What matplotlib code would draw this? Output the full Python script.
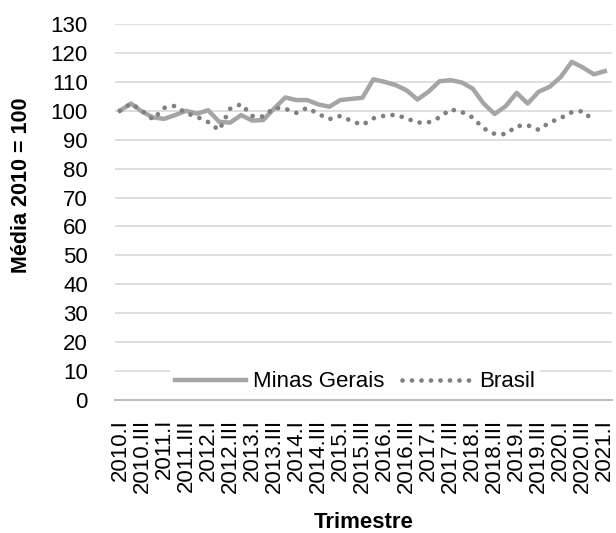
import matplotlib
matplotlib.use('Agg')
import matplotlib.pyplot as plt
import numpy as np

plt.rcParams['font.family'] = ['Liberation Sans', 'DejaVu Sans']

# trimestres 2010.I ... 2021.I
romanos = ['I', 'II', 'III', 'IV']
trimestres = [f'{ano}.{q}' for ano in range(2010, 2022) for q in romanos][:45]

minas_gerais = [100.0, 102.5, 99.7, 97.7, 97.2, 98.5, 100.0, 99.0, 100.2, 96.2,
                95.9, 98.5, 96.6, 96.8, 100.8, 104.6, 103.7, 103.7, 102.2, 101.4,
                103.7, 104.1, 104.5, 110.9, 110.0, 108.9, 107.1, 103.9, 106.6, 110.2,
                110.6, 109.8, 107.7, 102.5, 98.9, 101.6, 106.2, 102.5, 106.6, 108.3,
                111.7, 116.9, 115.0, 112.6, 113.7]
brasil = [100.0, 102.5, 100.0, 97.0, 101.0, 101.7, 99.2, 97.9, 96.1, 93.3,
          100.7, 102.3, 98.2, 98.0, 101.0, 100.7, 99.3, 101.0, 98.9, 97.1,
          98.2, 96.5, 95.1, 97.4, 98.3, 98.6, 97.4, 95.9, 96.0, 97.7,
          100.5, 99.6, 97.7, 93.9, 92.0, 91.9, 94.7, 95.0, 93.4, 96.0,
          97.5, 99.5, 99.9, 96.5]

fig = plt.figure(figsize=(6.16, 5.33), dpi=100)
ax = fig.add_axes([115 / 616, 1 - 400 / 533, 497 / 616, 376 / 533])

x_mg = np.arange(len(minas_gerais))
x_br = np.arange(len(brasil))
ax.plot(x_mg, minas_gerais, color='#A5A5A5', lw=3.2, solid_joinstyle='round',
        label='Minas Gerais', zorder=3)
ax.plot(x_br, brasil, color='#808080', lw=3.4, linestyle=(0, (0.01, 2.0)),
        dash_capstyle='round', label='Brasil', zorder=3)

ax.set_ylim(0, 130)
ax.set_yticks(np.arange(0, 131, 10))
ax.set_xlim(-0.45, 44.65)
ax.set_xticks(x_mg[::2])
ax.set_xticklabels(trimestres[::2], rotation=90, fontsize=16)
ax.tick_params(axis='y', labelsize=16, length=0, pad=19.5)
ax.tick_params(axis='x', length=0, pad=13.7)

ax.grid(axis='y', color='#D9D9D9', lw=1.2, zorder=0)
ax.set_axisbelow(True)
for s in ['top', 'right', 'left']:
    ax.spines[s].set_visible(False)
ax.spines['bottom'].set_color('#BFBFBF')
ax.spines['bottom'].set_linewidth(1.5)

leg = ax.legend(loc='center', bbox_to_anchor=(0.483, 0.048), ncol=2,
                fontsize=16, frameon=True, fancybox=False, edgecolor='none',
                facecolor='white', framealpha=1, handlelength=3.2,
                handletextpad=0.3, columnspacing=0.8, borderpad=0.2)

fig.text(364 / 616, 1 - 522 / 533, 'Trimestre', fontsize=16, fontweight='bold',
         ha='center', va='center')
fig.text(22 / 616, 1 - 185 / 533, 'Média 2010 = 100', fontsize=15.5,
         fontweight='bold', rotation=90, ha='center', va='center')

fig.savefig('out.png', dpi=100)
